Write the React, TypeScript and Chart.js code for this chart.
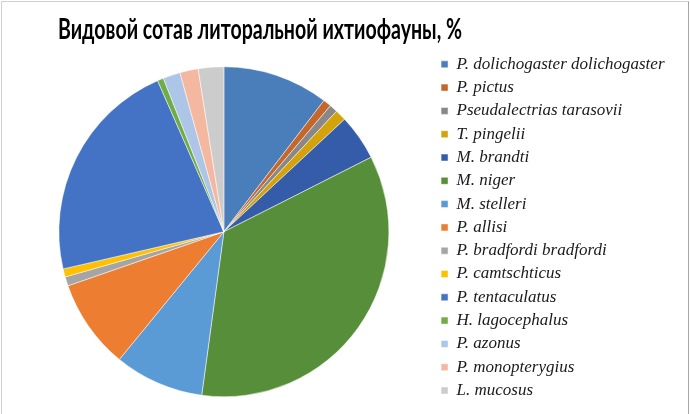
import React, { useEffect, useRef } from "react";
import { Chart, ChartConfiguration, Plugin, registerables } from "chart.js";

Chart.register(...registerables);

const chartTitle = "Видовой сотав литоральной ихтиофауны, %";

const species = [
  "P. dolichogaster dolichogaster",
  "P. pictus",
  "Pseudalectrias tarasovii",
  "T. pingelii",
  "M. brandti",
  "M. niger",
  "M. stelleri",
  "P. allisi",
  "P. bradfordi bradfordi",
  "P. camtschticus",
  "P. tentaculatus",
  "H. lagocephalus",
  "P. azonus",
  "P. monopterygius",
  "L. mucosus",
];

const shares = [10.4, 0.8, 0.8, 1.1, 4.5, 34.7, 8.8, 8.8, 0.9, 0.8, 22.1, 0.6, 1.7, 1.8, 2.5];

const sliceColors = [
  "#4A7EBA",
  "#C5662A",
  "#888888",
  "#D4A20A",
  "#355CA8",
  "#578E39",
  "#5B9BD5",
  "#ED7D31",
  "#A5A5A5",
  "#FFC000",
  "#4472C4",
  "#70AD47",
  "#ADC5E7",
  "#F4B8A1",
  "#CCCCCC",
];

// title sits left of centre and is narrow like Calibri, so draw it ourselves
const titlePlugin: Plugin<"pie"> = {
  id: "narrowTitle",
  afterDraw(chart) {
    const ctx = chart.ctx;
    ctx.save();
    ctx.font = "bold 28px Lato";
    ctx.fillStyle = "#000";
    ctx.textBaseline = "alphabetic";
    ctx.textAlign = "center";
    const w = ctx.measureText(chartTitle).width;
    const target = 404;
    ctx.translate(260, 39);
    ctx.scale(target / w, 1);
    ctx.fillText(chartTitle, 0, 0);
    ctx.restore();
  },
};

const config: ChartConfiguration<"pie"> = {
  type: "pie",
  data: {
    labels: species,
    datasets: [
      {
        data: shares,
        backgroundColor: sliceColors,
        borderColor: "#ffffff",
        borderWidth: 0.5,
      },
    ],
  },
  options: {
    animation: false,
    responsive: false,
    maintainAspectRatio: false,
    radius: 165,
    layout: {
      padding: { top: 49.5, bottom: 0, left: 13, right: 15.5 },
    },
    plugins: {
      title: { display: false },
      tooltip: { enabled: false },
      legend: {
        position: "right",
        align: "start",
        labels: {
          boxWidth: 7,
          boxHeight: 7,
          padding: 6.3,
          color: "#1a1a1a",
          font: { family: "'Liberation Serif', 'DejaVu Serif', serif", style: "italic", size: 17 },
        },
      },
    },
  },
  plugins: [titlePlugin],
};

export default function App() {
  const chartRef = useRef<HTMLCanvasElement | null>(null);

  useEffect(() => {
    if (!chartRef.current) {
      return;
    }
    const chartInstance = new Chart(chartRef.current, config);
    return () => {
      chartInstance.destroy();
    };
  }, [chartRef]);

  return (
    <div style={{ position: "absolute", left: 0, top: 0, width: 690, height: 414, background: "#fff" }}>
      <canvas ref={chartRef} width={690} height={414} style={{ width: 690, height: 414, display: "block" }}></canvas>
      <div
        style={{
          position: "absolute",
          left: 1,
          top: 1,
          width: 686,
          height: 420,
          borderLeft: "1px solid #D0D0D0",
          borderTop: "1px solid #D0D0D0",
          borderRight: "1px solid #A6A6A6",
          pointerEvents: "none",
        }}
      ></div>
    </div>
  );
}
